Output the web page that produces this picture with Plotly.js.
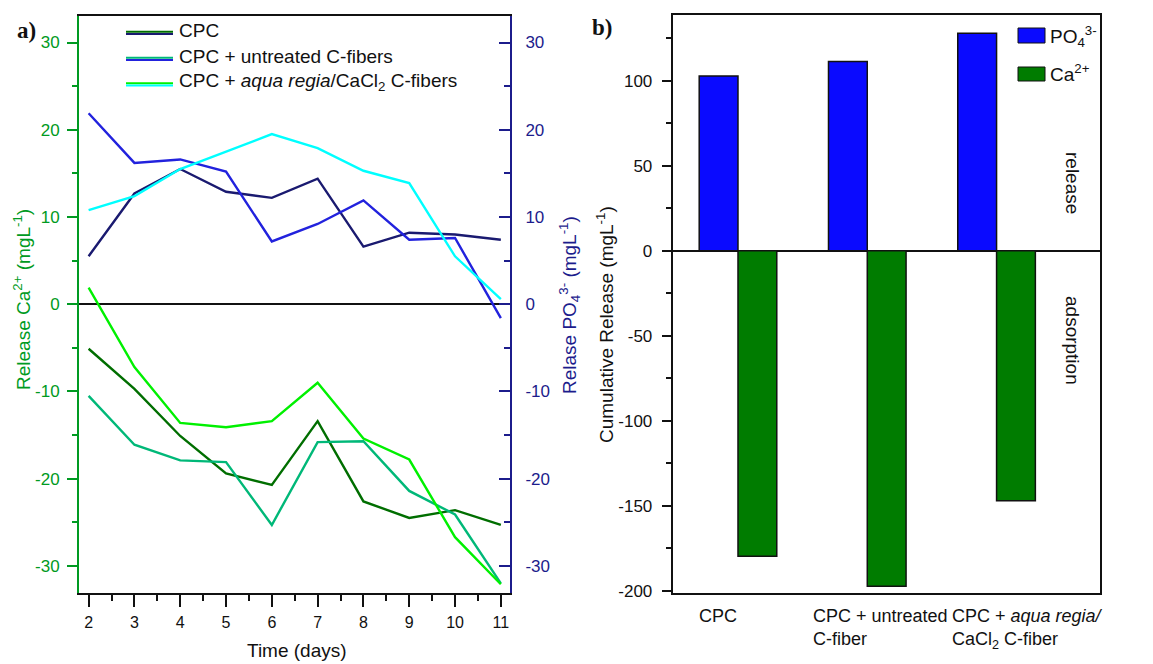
<!DOCTYPE html>
<html>
<head>
<meta charset="utf-8">
<script src="https://cdn.plot.ly/plotly-3.0.1.min.js"></script>
<style>html,body{margin:0;padding:0;background:#fff;}#chart{width:1153px;height:664px;}</style>
</head>
<body>
<div id="chart"></div>
<script>
// ---------- data ----------
const days = [2, 3, 4, 5, 6, 7, 8, 9, 10, 11];
const caCPC       = [-5.1, -9.7, -15.1, -19.4, -20.7, -13.4, -22.6, -24.5, -23.6, -25.3];
const caUntreated = [-10.5, -16.1, -17.9, -18.1, -25.3, -15.8, -15.7, -21.4, -24.1, -32.0];
const caAqua      = [1.9, -7.2, -13.6, -14.1, -13.4, -9.0, -15.4, -17.8, -26.7, -32.1];
const poCPC       = [5.5, 12.7, 15.5, 12.9, 12.2, 14.4, 6.6, 8.2, 8.0, 7.4];
const poUntreated = [21.9, 16.2, 16.6, 15.2, 7.2, 9.2, 11.9, 7.4, 7.6, -1.6];
const poAqua      = [10.8, 12.4, 15.5, 17.5, 19.5, 17.9, 15.3, 13.9, 5.5, 0.6];

const seriesNames = ['CPC', 'CPC + untreated C-fibers', 'CPC + <i>aqua regia</i>/CaCl<sub>2</sub> C-fibers'];

const groups = ['CPC', 'CPC + untreated C-fiber', 'CPC + aqua regia/CaCl2 C-fiber'];
const groupLabels = ['CPC', 'CPC + untreated<br>C-fiber', 'CPC + <i>aqua regia/</i><br>CaCl<sub>2</sub> C-fiber'];
const po4Cum = [102.8, 111.4, 128.0];
const caCum  = [-179.6, -197.2, -147.0];

const leftTickVals = [-30, -20, -10, 0, 10, 20, 30];
const leftTickText = ['-30', '-20', '-10', '0', '10', '20', '30'];
const barTickVals = [-200, -150, -100, -50, 0, 50, 100];
const barTickText = ['-200', '-150', '-100', '-50', '0', '50', '100'];

// ---------- styles ----------
const W = 1153, H = 664;
const px = x => x / W;
const py = y => 1 - y / H;
const FONT = 'Liberation Sans, Arial, sans-serif';
const GREEN_AX = '#009a22';
const NAVY_AX = '#1c1c8c';
const caColors = ['#006e00', '#00b878', '#00f000'];
const poColors = ['#1a1a70', '#2222dd', '#00ffff'];
const LW = 2.4;
const labelShift = [-41, -56, -47];

const caSeries = [caCPC, caUntreated, caAqua];
const poSeries = [poCPC, poUntreated, poAqua];

const traces = [];
poSeries.forEach((s, i) => traces.push({
  x: days, y: s, type: 'scatter', mode: 'lines', xaxis: 'x', yaxis: 'y2',
  line: {color: poColors[i], width: LW}, showlegend: false, name: seriesNames[i] + ' PO4'
}));
caSeries.forEach((s, i) => traces.push({
  x: days, y: s, type: 'scatter', mode: 'lines', xaxis: 'x', yaxis: 'y',
  line: {color: caColors[i], width: LW}, showlegend: false, name: seriesNames[i] + ' Ca'
}));
traces.push({
  x: groups, y: po4Cum, type: 'bar', xaxis: 'x3', yaxis: 'y3', name: 'PO4',
  marker: {color: '#0a0aff', line: {color: '#111', width: 1.5}}, showlegend: false
});
traces.push({
  x: groups, y: caCum, type: 'bar', xaxis: 'x3', yaxis: 'y3', name: 'Ca',
  marker: {color: '#007c00', line: {color: '#111', width: 1.5}}, showlegend: false
});

const leftDomX = [px(79), px(510)];
const leftDomY = [py(593), py(15.5)];
const rightDomX = [px(672.7), px(1100)];
const rightDomY = [py(592.7), py(15.3)];

const shapes = [];
const annotations = [];
const ann = (o) => annotations.push(Object.assign({xref: 'paper', yref: 'paper', xanchor: 'center', yanchor: 'middle', showarrow: false}, o));

// left legend (manual, double line samples)
const legY = [30.5, 56.5, 82];
seriesNames.forEach((n, i) => {
  shapes.push({type: 'line', xref: 'paper', yref: 'paper', x0: px(126), x1: px(173), y0: py(legY[i] + 1.3), y1: py(legY[i] + 1.3), line: {color: caColors[i], width: 2}});
  shapes.push({type: 'line', xref: 'paper', yref: 'paper', x0: px(126), x1: px(173), y0: py(legY[i] + 3.6), y1: py(legY[i] + 3.6), line: {color: poColors[i], width: 2}});
  ann({x: px(177), y: py(legY[i]), xanchor: 'left', text: n, font: {family: FONT, size: 19, color: '#111'}});
});

// right legend
shapes.push({type: 'rect', xref: 'paper', yref: 'paper', x0: px(1018), x1: px(1045), y0: py(43), y1: py(28), fillcolor: '#0a0aff', line: {color: '#111', width: 1}});
shapes.push({type: 'rect', xref: 'paper', yref: 'paper', x0: px(1018), x1: px(1045), y0: py(81), y1: py(67), fillcolor: '#007c00', line: {color: '#111', width: 1}});
ann({x: px(1048), y: py(36), xanchor: 'left', text: 'PO<sub>4</sub><sup>3-</sup>', font: {family: FONT, size: 19, color: '#111'}});
ann({x: px(1048), y: py(73), xanchor: 'left', text: 'Ca<sup>2+</sup>', font: {family: FONT, size: 19, color: '#111'}});

// region labels
ann({x: px(1073), y: py(183), text: 'release', textangle: 90, font: {family: FONT, size: 19, color: '#111'}});
ann({x: px(1073), y: py(340), text: 'adsorption', textangle: 90, font: {family: FONT, size: 19, color: '#111'}});

// axis titles
ann({x: px(22), y: py(300), text: 'Release Ca<sup>2+</sup> (mgL<sup>-1</sup>)', textangle: -90, font: {family: FONT, size: 19, color: GREEN_AX}});
ann({x: px(570), y: py(305), text: 'Relase PO<sub>4</sub><sup>3-</sup> (mgL<sup>-1</sup>)', textangle: -90, font: {family: FONT, size: 19, color: NAVY_AX}});
ann({x: px(297), y: py(650), text: 'Time (days)', font: {family: FONT, size: 19, color: '#111'}});
ann({x: px(605), y: py(325), text: 'Cumulative Release (mgL<sup>-1</sup>)', textangle: -90, font: {family: FONT, size: 19, color: '#111'}});

// panel labels
ann({x: px(15), y: py(30), xanchor: 'left', text: '<b>a)</b>', font: {family: 'Liberation Serif, Times New Roman, serif', size: 23, color: '#111'}});
ann({x: px(590), y: py(28), xanchor: 'left', text: '<b>b)</b>', font: {family: 'Liberation Serif, Times New Roman, serif', size: 23, color: '#111'}});

// category labels for bars
groups.forEach((g, i) => {
  annotations.push({xref: 'x3', yref: 'paper', x: g, y: py(604), xanchor: 'left', yanchor: 'top', align: 'left', xshift: labelShift[i], text: groupLabels[i], showarrow: false, font: {family: FONT, size: 18, color: '#111'}});
});

const layout = {
  width: W, height: H,
  margin: {l: 0, r: 0, t: 0, b: 0},
  paper_bgcolor: '#fff', plot_bgcolor: '#fff',
  font: {family: FONT, size: 17, color: '#111'},
  showlegend: false,
  barmode: 'group', bargap: 0.4, bargroupgap: 0,
  xaxis: {
    domain: leftDomX, anchor: 'y', range: [1.79, 11.2], tickmode: 'linear', tick0: 2, dtick: 1,
    ticks: 'outside', ticklen: 12, tickwidth: 2, tickcolor: '#111',
    minor: {tickmode: 'linear', tick0: 2, dtick: 0.5, ticks: 'outside', ticklen: 6, tickwidth: 2, tickcolor: '#111'},
    showline: true, linecolor: '#111', linewidth: 2, mirror: true, showgrid: false, zeroline: false,
    tickfont: {family: FONT, size: 16, color: '#111'}, ticklabelstandoff: 2
  },
  yaxis: {
    domain: leftDomY, anchor: 'x', range: [-33.1, 33.1], tickmode: 'array', tickvals: leftTickVals, ticktext: leftTickText,
    ticks: 'outside', ticklen: 10, tickwidth: 2, tickcolor: GREEN_AX,
    minor: {tickmode: 'linear', tick0: 0, dtick: 5, ticks: 'outside', ticklen: 5, tickwidth: 2, tickcolor: GREEN_AX},
    showline: true, linecolor: GREEN_AX, linewidth: 2, showgrid: false,
    zeroline: true, zerolinecolor: '#111', zerolinewidth: 2,
    tickfont: {family: FONT, size: 17, color: GREEN_AX}, ticklabelstandoff: 4
  },
  yaxis2: {
    overlaying: 'y', side: 'right', anchor: 'x', range: [-33.1, 33.1], tickmode: 'array', tickvals: leftTickVals, ticktext: leftTickText,
    ticks: 'inside', ticklen: 11, tickwidth: 2, tickcolor: NAVY_AX,
    minor: {tickmode: 'linear', tick0: 0, dtick: 5, ticks: 'inside', ticklen: 6, tickwidth: 2, tickcolor: NAVY_AX},
    showline: true, linecolor: NAVY_AX, linewidth: 2, showgrid: false, zeroline: false,
    tickfont: {family: FONT, size: 17, color: NAVY_AX}, ticklabelstandoff: 10
  },
  xaxis3: {
    domain: rightDomX, anchor: 'y3', type: 'category', range: [-0.505, 2.8],
    showticklabels: false, ticks: '', showline: true, linecolor: '#111', linewidth: 2, mirror: true, showgrid: false, zeroline: false
  },
  yaxis3: {
    domain: rightDomY, anchor: 'x3', range: [-201, 138.5], tickmode: 'array', tickvals: barTickVals, ticktext: barTickText,
    ticks: 'outside', ticklen: 9, tickwidth: 2, tickcolor: '#111',
    minor: {tickmode: 'linear', tick0: 0, dtick: 25, ticks: 'outside', ticklen: 5, tickwidth: 2, tickcolor: '#111'},
    showline: true, linecolor: '#111', linewidth: 2, mirror: true, showgrid: false,
    zeroline: true, zerolinecolor: '#111', zerolinewidth: 2,
    tickfont: {family: FONT, size: 17, color: '#111'}, ticklabelstandoff: 6
  },
  shapes: shapes,
  annotations: annotations
};

Plotly.newPlot('chart', traces, layout, {displayModeBar: false, staticPlot: true});
</script>
</body>
</html>
